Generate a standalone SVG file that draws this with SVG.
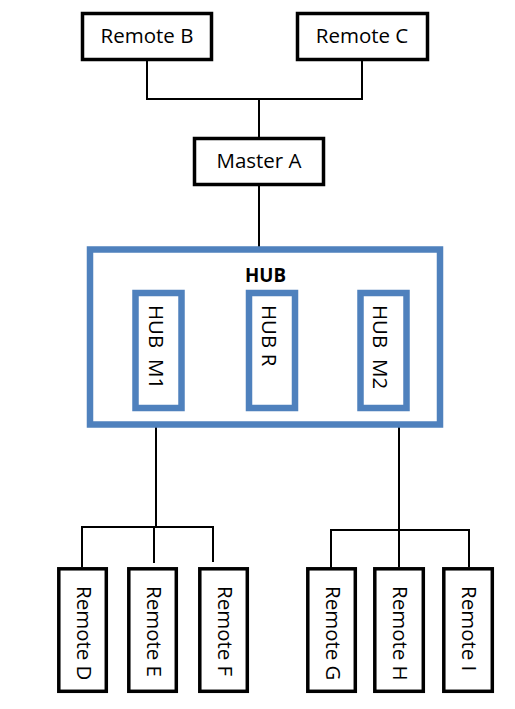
<svg xmlns="http://www.w3.org/2000/svg" width="515" height="709" viewBox="0 0 515 709">
<style>
.box{fill:#fff;stroke:#000;stroke-width:3.5}
.hub{fill:#fff;stroke:#4F81BD;stroke-width:6.5}
.lbl{font-family:"Open Sans","Liberation Sans",sans-serif;font-size:20.5px;fill:#000}
.title{font-family:"Open Sans","Liberation Sans",sans-serif;font-size:20px;font-weight:bold;fill:#000}
.ln{fill:none;stroke:#000;stroke-width:2}
</style>
<rect width="515" height="709" fill="#fff"/>
<g id="connectors">
<polyline class="ln" points="147,61 147,99 362,99 362,61"/>
<line class="ln" x1="259" y1="99" x2="259" y2="138"/>
<line class="ln" x1="259" y1="186" x2="259" y2="247"/>
<line class="ln" x1="156" y1="404" x2="156" y2="527"/>
<polyline class="ln" points="82,567 82,527 213,527 213,562"/>
<line class="ln" x1="154" y1="527" x2="154" y2="563"/>
<line class="ln" x1="399" y1="411" x2="399" y2="567"/>
<polyline class="ln" points="331,571 331,530 469,530 469,567"/>
</g>
<g id="remoteB"><rect class="box" x="82.5" y="13.5" width="129" height="46"/><text class="lbl" x="147" y="43" text-anchor="middle">Remote B</text></g>
<g id="remoteC"><rect class="box" x="297.5" y="13.5" width="130" height="46"/><text class="lbl" x="362" y="43" text-anchor="middle">Remote C</text></g>
<g id="masterA"><rect class="box" x="194.5" y="138.5" width="129" height="46"/><text class="lbl" x="259" y="168" text-anchor="middle">Master A</text></g>
<g id="hub">
<rect class="hub" x="90" y="249.5" width="350" height="175"/>
<text class="title" x="245" y="282" textLength="41" lengthAdjust="spacingAndGlyphs">HUB</text>
</g>
<g id="hubM1"><rect class="hub" x="135.5" y="293" width="46" height="115"/><text class="lbl" xml:space="preserve" transform="translate(149,305) rotate(90)">HUB  M1</text></g>
<g id="hubR"><rect class="hub" x="249" y="293" width="46" height="115"/><text class="lbl" transform="translate(262,305) rotate(90)">HUB R</text></g>
<g id="hubM2"><rect class="hub" x="360.5" y="293" width="46" height="115"/><text class="lbl" xml:space="preserve" transform="translate(373,305) rotate(90)">HUB  M2</text></g>
<g id="remoteD"><rect class="box" x="58.8" y="568.8" width="47.5" height="122.5"/><text class="lbl" transform="translate(76.5,586) rotate(90)">Remote D</text></g>
<g id="remoteE"><rect class="box" x="128.8" y="568.8" width="47.5" height="122.5"/><text class="lbl" transform="translate(146.5,586) rotate(90)">Remote E</text></g>
<g id="remoteF"><rect class="box" x="199.8" y="568.8" width="47.5" height="122.5"/><text class="lbl" transform="translate(217.5,586) rotate(90)">Remote F</text></g>
<g id="remoteG"><rect class="box" x="307.8" y="568.8" width="47.5" height="122.5"/><text class="lbl" transform="translate(325.5,586) rotate(90)">Remote G</text></g>
<g id="remoteH"><rect class="box" x="374.8" y="568.8" width="48.5" height="122.5"/><text class="lbl" transform="translate(393,586) rotate(90)">Remote H</text></g>
<g id="remoteI"><rect class="box" x="443.8" y="568.8" width="48.5" height="122.5"/><text class="lbl" transform="translate(461.5,586) rotate(90)">Remote I</text></g>
</svg>
